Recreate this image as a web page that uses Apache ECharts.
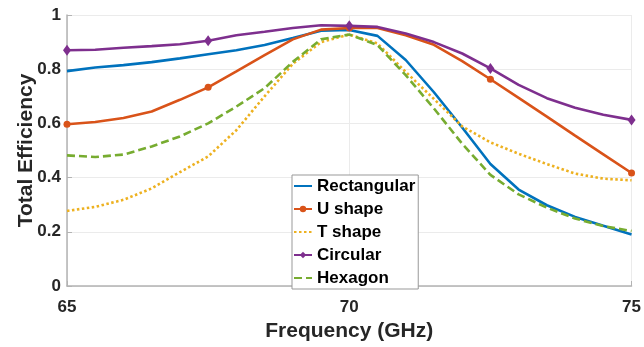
<!DOCTYPE html>
<html>
<head>
<meta charset="utf-8">
<script src="https://cdn.jsdelivr.net/npm/echarts@6/dist/echarts.min.js"></script>
<style>
html,body{margin:0;padding:0;background:#fff;}
#c{width:644px;height:347px;}
</style>
</head>
<body>
<div id="c"></div>
<script>
const freq = [65,65.5,66,66.5,67,67.5,68,68.5,69,69.5,70,70.5,71,71.5,72,72.5,73,73.5,74,74.5,75];
const rectangular = [0.793,0.806,0.815,0.826,0.840,0.855,0.870,0.889,0.915,0.942,0.945,0.923,0.834,0.715,0.585,0.450,0.356,0.298,0.255,0.222,0.190];
const uShape      = [0.597,0.605,0.620,0.644,0.687,0.733,0.792,0.852,0.910,0.946,0.952,0.952,0.925,0.890,0.830,0.763,0.694,0.625,0.555,0.486,0.417];
const tShape      = [0.277,0.292,0.318,0.360,0.420,0.478,0.575,0.700,0.820,0.900,0.928,0.895,0.790,0.690,0.589,0.530,0.488,0.450,0.415,0.396,0.390];
const circular    = [0.870,0.872,0.879,0.885,0.892,0.905,0.925,0.938,0.952,0.962,0.960,0.956,0.932,0.900,0.858,0.803,0.742,0.693,0.658,0.632,0.613];
const hexagon     = [0.482,0.476,0.485,0.515,0.552,0.600,0.662,0.730,0.827,0.910,0.928,0.889,0.778,0.655,0.525,0.410,0.338,0.289,0.249,0.221,0.203];
const names = ['Rectangular','U shape','T shape','Circular','Hexagon'];
const hasMarker = [false,true,false,true,false];
const yTicks = [0,0.2,0.4,0.6,0.8,1];
const xTicks = [65,70,75];

const FONT = '"Liberation Sans", Arial, Helvetica, sans-serif';
const TXT = '#262626';

function pts(vals, marker){
  return freq.map((f,i)=>{
    const d = {value:[f, vals[i]]};
    if (marker && i % 5 !== 0) d.symbol = 'none';
    return d;
  });
}

const chart = echarts.init(document.getElementById('c'), null, {renderer:'canvas'});
chart.setOption({
  backgroundColor:'#fff',
  animation:false,
  grid:{left:67, right:12, top:15, bottom:60, containLabel:false},
  legend:{
    left:292, top:175,
    orient:'vertical',
    data:names.map((n,i)=>hasMarker[i] ? {name:n} : {name:n, itemStyle:{opacity:0}}),
    itemWidth:18, itemHeight:8, itemGap:3,
    padding:[1,3,1,1],
    borderColor:'#999', borderWidth:1, borderRadius:0,
    backgroundColor:'#fff',
    textStyle:{fontFamily:FONT, fontWeight:'bold', fontSize:17, color:'#000', lineHeight:20}
  },
  xAxis:{
    type:'value', min:65, max:75, interval:5,
    name:'Frequency (GHz)', nameLocation:'middle', nameGap:35, nameMoveOverlap:false,
    nameTextStyle:{fontFamily:FONT, fontWeight:'bold', fontSize:21, color:TXT},
    axisLine:{show:true, lineStyle:{color:'#b3b3b3', width:1.5}},
    axisTick:{show:true, inside:true, length:5, lineStyle:{color:'#b3b3b3'}},
    axisLabel:{fontFamily:FONT, fontWeight:'bold', fontSize:17, color:TXT, margin:13,
      formatter:v=>xTicks.includes(v)?String(v):''},
    splitLine:{show:true, lineStyle:{color:'#ebebeb', width:1}}
  },
  yAxis:{
    type:'value', min:0, max:1, interval:0.2,
    name:'Total Efficiency', nameLocation:'middle', nameGap:30, nameMoveOverlap:false,
    nameTextStyle:{fontFamily:FONT, fontWeight:'bold', fontSize:21, color:TXT},
    axisLine:{show:true, lineStyle:{color:'#b3b3b3', width:1.5}},
    axisTick:{show:true, inside:true, length:5, lineStyle:{color:'#b3b3b3'}},
    axisLabel:{fontFamily:FONT, fontWeight:'bold', fontSize:17, color:TXT, margin:6,
      formatter:v=>{const t=yTicks.find(k=>Math.abs(k-v)<1e-9); return t===undefined?'':String(t);}},
    splitLine:{show:true, lineStyle:{color:'#ebebeb', width:1}}
  },
  series:[
    {name:names[0], type:'line', data:pts(rectangular,false), symbol:'none',
     lineStyle:{color:'#0072BD', width:2.6}, itemStyle:{color:'#0072BD'}},
    {name:names[1], type:'line', data:pts(uShape,true), symbol:'circle', symbolSize:7, showSymbol:true,
     lineStyle:{color:'#D95319', width:2.6}, itemStyle:{color:'#D95319'}},
    {name:names[2], type:'line', data:pts(tShape,false), symbol:'none',
     lineStyle:{color:'#EDB120', width:2.6, type:[2.5,2.5]}, itemStyle:{color:'#EDB120'}},
    {name:names[3], type:'line', data:pts(circular,true), symbol:'diamond', symbolSize:[8,11], showSymbol:true,
     lineStyle:{color:'#7E2F8E', width:2.6}, itemStyle:{color:'#7E2F8E'}},
    {name:names[4], type:'line', data:pts(hexagon,false), symbol:'none',
     lineStyle:{color:'#77AC30', width:2.6, type:[8,4]}, itemStyle:{color:'#77AC30'}}
  ]
});
</script>
</body>
</html>
